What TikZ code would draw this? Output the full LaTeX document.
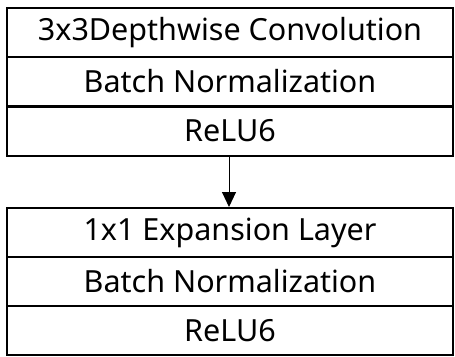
\documentclass[tikz,border=0pt]{standalone}
\usepackage{fontspec}
\setmainfont{Noto Sans}
\usetikzlibrary{arrows.meta}
\begin{document}
\begin{tikzpicture}[x=1pt,y=-1pt,
  row/.style={draw=black,line width=2pt,minimum width=446pt,minimum height=49pt,inner sep=0pt,anchor=north,
    font=\fontsize{30.5}{34}\selectfont},
  flow/.style={line width=1pt,-{Triangle[width=14pt,length=15pt]}}]
\useasboundingbox (0,0) rectangle (455,356);
\node[row] (a1) at (230,7) {3x3Depthwise Convolution};
\node[row] (a2) at (230,56) {Batch Normalization};
\node[row] (a3) at (230,105.5) {ReLU6};
\node[row] (b1) at (230,207) {1x1 Expansion Layer};
\node[row] (b2) at (230,256) {Batch Normalization};
\node[row] (b3) at (230,305) {ReLU6};
\draw[flow] (a3.south -| 229,0) -- (b1.north -| 229,0);
\end{tikzpicture}
\end{document}
